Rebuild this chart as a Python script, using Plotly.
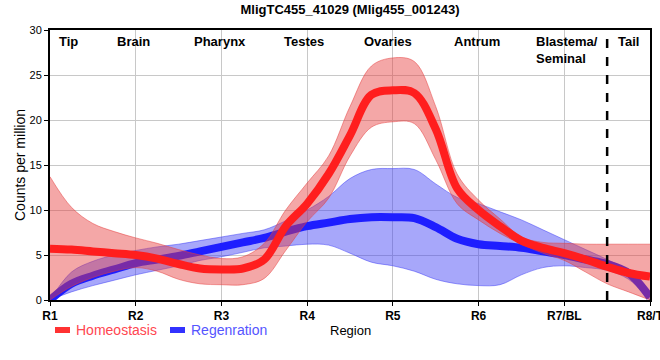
import plotly.graph_objects as go

# ---------------- data ----------------
positions = [1, 1.25, 1.5, 1.75, 2, 2.25, 2.5, 2.75, 3, 3.25, 3.5, 3.75, 4, 4.25,
             4.5, 4.75, 5, 5.25, 5.5, 5.75, 6, 6.25, 6.5, 6.75, 7, 7.25, 7.5, 7.75, 8]

homeo_mean = [5.7, 5.6, 5.4, 5.2, 5.0, 4.6, 4.0, 3.5, 3.4, 3.5, 4.5, 8.2, 10.7, 14.0,
              18.3, 22.8, 23.3, 23.0, 19.0, 12.4, 10.0, 8.2, 6.6, 5.8, 5.2, 4.5, 3.7, 3.0, 2.6]
homeo_upper = [13.7, 10.3, 8.5, 7.6, 6.9, 6.3, 5.6, 5.0, 4.6, 4.8, 6.3, 10.0, 13.0, 16.0,
               21.5, 26.0, 26.9, 26.5, 21.5, 14.0, 11.1, 9.0, 7.0, 6.4, 6.3, 6.2, 6.2, 6.2, 6.2]
homeo_lower = [0.0, 1.5, 2.5, 3.2, 3.6, 3.2, 2.3, 1.8, 1.7, 1.7, 2.4, 5.5, 8.7, 11.3,
               16.0, 19.2, 19.8, 19.6, 15.6, 10.7, 8.9, 7.4, 6.2, 5.2, 4.4, 3.1, 1.8, 0.9, 0.0]

regen_mean = [0.0, 1.8, 2.7, 3.4, 4.1, 4.5, 4.9, 5.4, 5.9, 6.4, 6.9, 7.6, 8.2, 8.6,
              9.0, 9.2, 9.2, 9.1, 8.1, 6.8, 6.2, 6.0, 5.8, 5.4, 5.0, 4.5, 4.0, 3.0, 0.3]
regen_upper = [0.0, 3.1, 4.3, 5.0, 5.5, 5.9, 6.2, 6.6, 7.0, 7.4, 7.8, 8.8, 10.0, 11.5,
               13.5, 14.5, 14.6, 14.5, 12.9, 11.4, 10.7, 9.8, 8.9, 7.8, 6.7, 5.6, 4.5, 3.2, 0.0]
regen_lower = [0.0, 0.9, 1.6, 2.2, 2.8, 3.3, 3.8, 4.4, 4.8, 5.3, 5.8, 6.0, 6.2, 6.1,
               5.2, 4.2, 3.8, 3.2, 2.3, 1.8, 1.6, 1.7, 2.8, 3.6, 3.8, 3.6, 3.3, 2.3, 0.0]

tick_values = [1, 2, 3, 4, 5, 6, 7, 8]
tick_labels = ["R1", "R2", "R3", "R4", "R5", "R6", "R7/BL", "R8/T"]

region_names = ["Tip", "Brain", "Pharynx", "Testes", "Ovaries", "Antrum", "Blastema/<br>Seminal", "Tail"]
tail_boundary = 7.5

title_text = "MligTC455_41029 (Mlig455_001243)"
series_names = ["Homeostasis", "Regenration"]

# ---------------- styling / layout constants ----------------
region_label_x = [1.22, 1.97, 2.98, 3.96, 4.94, 5.98, 6.65, 7.75]
region_label_anchor = ["center"] * 6 + ["left", "center"]

RED_LINE = "rgb(255,30,30)"
BLUE_LINE = "rgb(30,30,255)"
RED_FILL = "rgba(230,60,60,0.45)"
BLUE_FILL = "rgba(60,60,245,0.45)"
FONT = "Liberation Sans, Arial, sans-serif"

fig = go.Figure()

# Regeneration band
fig.add_trace(go.Scatter(x=positions, y=regen_lower, mode="lines",
                         line=dict(color="rgba(60,60,245,0.5)", width=1, shape="spline"),
                         showlegend=False, hoverinfo="skip"))
fig.add_trace(go.Scatter(x=positions, y=regen_upper, mode="lines", fill="tonexty",
                         fillcolor=BLUE_FILL,
                         line=dict(color="rgba(60,60,245,0.5)", width=1, shape="spline"),
                         showlegend=False, hoverinfo="skip"))
# Regeneration mean
fig.add_trace(go.Scatter(x=positions, y=regen_mean, mode="lines", name=series_names[1],
                         line=dict(color=BLUE_LINE, width=8, shape="spline"),
                         showlegend=False))
# Homeostasis band
fig.add_trace(go.Scatter(x=positions, y=homeo_lower, mode="lines",
                         line=dict(color="rgba(230,60,60,0.5)", width=1, shape="spline"),
                         showlegend=False, hoverinfo="skip"))
fig.add_trace(go.Scatter(x=positions, y=homeo_upper, mode="lines", fill="tonexty",
                         fillcolor=RED_FILL,
                         line=dict(color="rgba(230,60,60,0.5)", width=1, shape="spline"),
                         showlegend=False, hoverinfo="skip"))
# Homeostasis mean
fig.add_trace(go.Scatter(x=positions, y=homeo_mean, mode="lines", name=series_names[0],
                         line=dict(color=RED_LINE, width=8, shape="spline"),
                         showlegend=False))

annotations = []
for name, xpos, anc in zip(region_names, region_label_x, region_label_anchor):
    annotations.append(dict(x=xpos, y=1.0, xref="x", yref="paper", text="<b>%s</b>" % name,
                            showarrow=False, xanchor=anc, yanchor="top", align="left",
                            yshift=-2,
                            font=dict(family=FONT, size=13, color="black")))

# axis titles
annotations.append(dict(x=(20 - 50) / 600, y=0.5, xref="paper", yref="paper",
                        text="Counts per million", textangle=-90, showarrow=False,
                        xanchor="center", yanchor="middle",
                        font=dict(family=FONT, size=14, color="black")))
annotations.append(dict(x=0.5, y=(300 - 330) / 270, xref="paper", yref="paper",
                        text="Region", showarrow=False, xanchor="center", yanchor="middle",
                        font=dict(family=FONT, size=13, color="black")))

# custom legend
leg_y = (300 - 330) / 270
annotations.append(dict(x=(74 - 50) / 600, y=leg_y, xref="paper", yref="paper",
                        text=series_names[0], showarrow=False, xanchor="left", yanchor="middle",
                        font=dict(family=FONT, size=14, color="rgb(255,70,80)")))
annotations.append(dict(x=(189 - 50) / 600, y=leg_y, xref="paper", yref="paper",
                        text=series_names[1], showarrow=False, xanchor="left", yanchor="middle",
                        font=dict(family=FONT, size=14, color="rgb(85,85,255)")))

shapes = [
    dict(type="rect", xref="paper", yref="paper",
         x0=(55 - 50) / 600, x1=(70 - 50) / 600, y0=(300 - 333) / 270, y1=(300 - 327) / 270,
         fillcolor="rgb(255,50,50)", line=dict(width=0)),
    dict(type="rect", xref="paper", yref="paper",
         x0=(170 - 50) / 600, x1=(185 - 50) / 600, y0=(300 - 333) / 270, y1=(300 - 327) / 270,
         fillcolor="rgb(50,50,255)", line=dict(width=0)),
    dict(type="line", xref="x", yref="paper", x0=tail_boundary, x1=tail_boundary, y0=0, y1=1,
         line=dict(color="black", width=2.5, dash="dash")),
]

fig.update_layout(
    width=660, height=360,
    margin=dict(l=50, r=10, t=30, b=60),
    paper_bgcolor="white", plot_bgcolor="white",
    title=dict(text="<b>%s</b>" % title_text, x=0.5, xref="paper", xanchor="center",
               y=1 - 9 / 360, yref="container", yanchor="middle",
               font=dict(family=FONT, size=13, color="black")),
    font=dict(family=FONT, color="black"),
    annotations=annotations,
    shapes=shapes,
    showlegend=False,
)

fig.update_xaxes(range=[1, 8], tickmode="array", tickvals=tick_values,
                 ticktext=["<b>%s</b>" % t for t in tick_labels],
                 tickfont=dict(family=FONT, size=12, color="black"),
                 ticklabeloverflow="allow",
                 showgrid=True, gridcolor="rgb(200,200,200)", gridwidth=1,
                 showline=True, linecolor="black", linewidth=2, mirror=True,
                 ticks="outside", ticklen=4, tickcolor="black", zeroline=False,
                 automargin=False)
fig.update_yaxes(range=[0, 30], tickmode="array", tickvals=[0, 5, 10, 15, 20, 25, 30],
                 tickfont=dict(family=FONT, size=11, color="black"),
                 showgrid=True, gridcolor="rgb(200,200,200)", gridwidth=1,
                 showline=True, linecolor="black", linewidth=2, mirror=True,
                 ticks="outside", ticklen=4, tickcolor="black", zeroline=False,
                 automargin=False)

# remove the default 8px page margin so the figure sits at the window's top-left corner
fig.write_html("out.html", config={"displayModeBar": False},
               post_script="document.body.style.margin='0';document.body.style.overflow='hidden';")
